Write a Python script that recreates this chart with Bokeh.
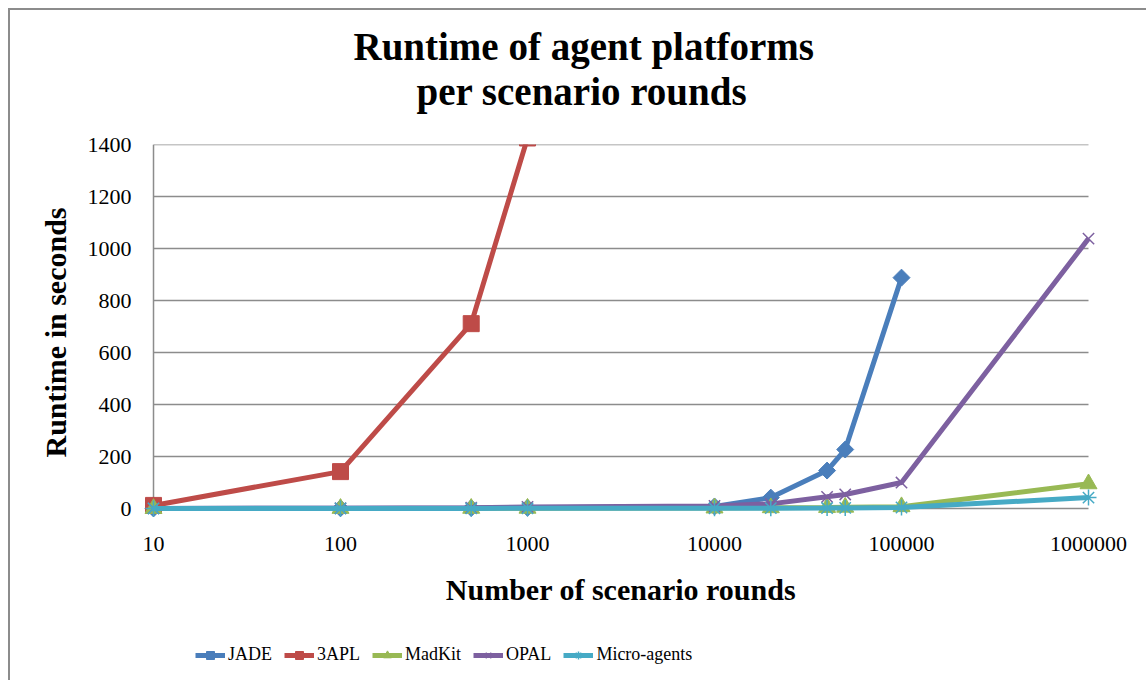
import math
from bokeh.plotting import figure
from bokeh.layouts import column
from bokeh.models import Range1d, FixedTicker, Legend, LegendItem, Title, PrintfTickFormatter
from bokeh.embed import file_html
from bokeh.resources import INLINE

# ---- data ----
rounds = [10, 100, 500, 1000, 10000, 20000, 40000, 50000, 100000, 1000000]
jade = [0.5, 1, 2, 3, 8, 42, 146, 227, 888]
apl3 = [12, 142, 711, 1425]
madkit = [0.3, 0.5, 0.8, 1, 2, 3, 4, 5, 7, 95]
opal = [0.5, 1, 3, 6, 10, 18, 45, 54, 100, 1038]
micro = [0.2, 0.3, 0.5, 0.7, 1, 1.5, 2, 2.5, 4, 42]

x_ticks = [10, 100, 1000, 10000, 100000, 1000000]
y_ticks = [0, 200, 400, 600, 800, 1000, 1200, 1400]

title_lines = ["Runtime of agent platforms", "per scenario rounds"]
x_title = "Number of scenario rounds"
y_title = "Runtime in seconds"

FONT = "Liberation Serif"
GRID = "#8c8c8c"

p = figure(width=1136, height=620, frame_width=955, frame_height=376,
           x_axis_type="log",
           x_range=Range1d(8.84, 1.131e6), y_range=Range1d(-46, 1400),
           output_backend="svg", toolbar_location=None,
           min_border_left=133, min_border_right=48,
           min_border_top=134, min_border_bottom=110)
p.outline_line_color = None
p.grid.visible = False
p.background_fill_color = "white"
p.border_fill_color = "white"

# gridlines and vertical axis line
n = len(y_ticks)
p.segment(x0=[x_ticks[0]] * n, y0=y_ticks, x1=[x_ticks[-1]] * n, y1=y_ticks,
          line_color=GRID, line_width=1.5)
p.segment(x0=[x_ticks[0]], y0=[y_ticks[0]], x1=[x_ticks[0]], y1=[y_ticks[-1]],
          line_color=GRID, line_width=1.5)

# axes
for ax in (p.xaxis[0], p.yaxis[0]):
    ax.axis_line_color = None
    ax.major_tick_line_color = None
    ax.minor_tick_line_color = None
    ax.major_label_text_font = FONT
    ax.major_label_text_font_size = "22px"
    ax.major_label_text_color = "black"
    ax.axis_label_text_font = FONT
    ax.axis_label_text_font_size = "30px"
    ax.axis_label_text_font_style = "bold"
    ax.axis_label_text_color = "black"

p.xaxis.ticker = FixedTicker(ticks=x_ticks)
p.xaxis.formatter = PrintfTickFormatter(format="%d")
p.xaxis.major_label_standoff = 10
p.xaxis.axis_label = x_title
p.xaxis.axis_label_standoff = 19

p.yaxis.ticker = FixedTicker(ticks=y_ticks)
p.yaxis.major_label_standoff = 6
p.yaxis.axis_label = y_title
p.yaxis.axis_label_standoff = 13

series = [
    ("JADE", rounds[:len(jade)], jade, "#4A7EBB", dict(marker="square", size=12, angle=math.pi / 4)),
    ("3APL", rounds[:len(apl3)], apl3, "#BE4B48", dict(marker="square", size=16)),
    ("MadKit", rounds, madkit, "#98B954", dict(marker="triangle", size=17)),
    ("OPAL", rounds, opal, "#7D60A0", dict(marker="x", size=16, line_width=1.5)),
    ("Micro-agents", rounds, micro, "#46AAC5", dict(marker="asterisk", size=16, line_width=1.5)),
]

for name, xs, ys, col, mk in series:
    p.line(xs, ys, line_color=col, line_width=5)
    p.scatter(xs, ys, fill_color=col, line_color=col, **mk)

# two-line title; panels listed first sit nearest the plot area
tstyle = dict(text_font=FONT, text_font_size="39px", text_font_style="bold",
              text_color="black", align="left")
p.title.text = title_lines[0]
p.title.offset = 210
p.title.standoff = 0
for k, v in tstyle.items():
    setattr(p.title, k, v)
# blank spacer between the title block and the plot area
p.add_layout(Title(text=" ", text_font_size="24px", standoff=3), "above")
p.add_layout(Title(text=title_lines[1], offset=273, standoff=0, **tstyle), "above")

# legend strip below the chart: same series, drawn outside this strip's visible range
q = figure(width=1136, height=50, x_range=Range1d(-2, -1), y_range=Range1d(-2, -1),
           x_axis_location=None, y_axis_location=None, title=None,
           output_backend="svg", toolbar_location=None, min_border=0)
q.outline_line_color = None
q.grid.visible = False
q.border_fill_color = "white"
q.background_fill_color = "white"
items = []
for name, xs, ys, col, mk in series:
    ln = q.line(xs, ys, line_color=col, line_width=5)
    sc = q.scatter(xs, ys, fill_color=col, line_color=col, **mk)
    items.append(LegendItem(label=name, renderers=[ln, sc]))
legend = Legend(items=items, orientation="horizontal", location=(52, 15),
                padding=0, margin=0, spacing=12, label_standoff=3,
                glyph_width=30, glyph_height=20, label_height=20,
                label_text_font=FONT, label_text_font_size="18px",
                label_text_color="black",
                border_line_color=None, background_fill_alpha=0)
q.add_layout(legend)

layout = column(p, q, spacing=0,
                styles={"margin-left": "8px", "margin-top": "8px",
                        "border-left": "2px solid #8c8c8c", "border-top": "2px solid #8c8c8c"})

open("out.html", "w").write(file_html(layout, INLINE))
